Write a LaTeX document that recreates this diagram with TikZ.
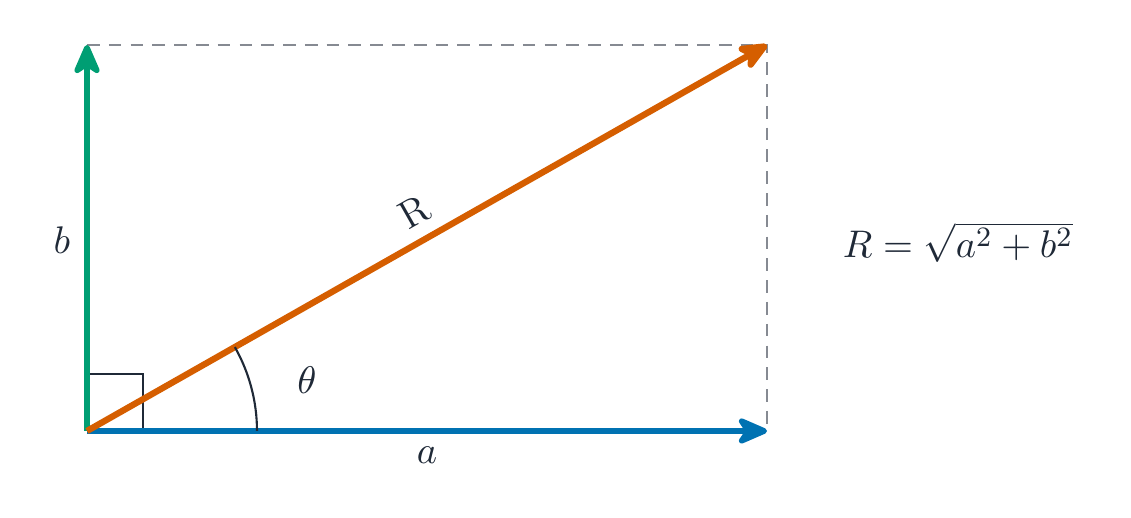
\documentclass[tikz,border=0pt]{standalone}
\usetikzlibrary{arrows.meta}
\definecolor{vblue}{HTML}{0072B2}
\definecolor{vorange}{HTML}{D55E00}
\definecolor{vgreen}{HTML}{009E73}
\definecolor{ink}{HTML}{1F2937}
\definecolor{guide}{HTML}{868A92}
\tikzset{
  vec/.style={line width=1.6pt, -{Stealth[round,length=10.5pt,width=9pt,inset=3pt]}},
  guideline/.style={guide, line width=0.6pt, dash pattern=on 3.6pt off 2.6pt},
  thin/.style={ink, line width=0.6pt},
  lbl/.style={ink, font=\fontsize{11.3}{14}\selectfont}
}
\begin{document}
\begin{tikzpicture}
        \useasboundingbox (-0.87,-0.87) rectangle (10.44,4.31);
        % Puntos del triangulo
        \coordinate (O) at (0,0);
        \coordinate (A) at (6.8,0);
        \coordinate (B) at (0,3.86);
        \coordinate (C) at (6.8,3.86);
        % Lineas auxiliares
        \draw[guideline] (B) -- (C) -- (A);
        % Angulo recto
        \draw[thin] (0,0.57) -- (0.56,0.57) -- (0.56,0);
        % Vectores
        \draw[vec, vgreen] (O) -- (B);
        \draw[vec, vblue] (O) -- (A);
        \draw[vec, vorange, line width=1.8pt] (O) -- (C);
        % Arco del angulo
        \draw[thin] (1.7,0) arc (0:29.58:1.7);
        % Etiquetas
        \node[lbl] (theta) at (2.2,0.51) {$\theta$};
        \node[lbl] (lb) at (-0.25,1.91) {$b$};
        \node[lbl] (la) at (3.4,-0.24) {$a$};
        \node[lbl, rotate=29.58] (lR) at (3.27,2.19) {R};
        \node[lbl] (eq) at (8.71,1.89) {$R=\sqrt{a^2+b^2}$};
    \end{tikzpicture}
\end{document}
